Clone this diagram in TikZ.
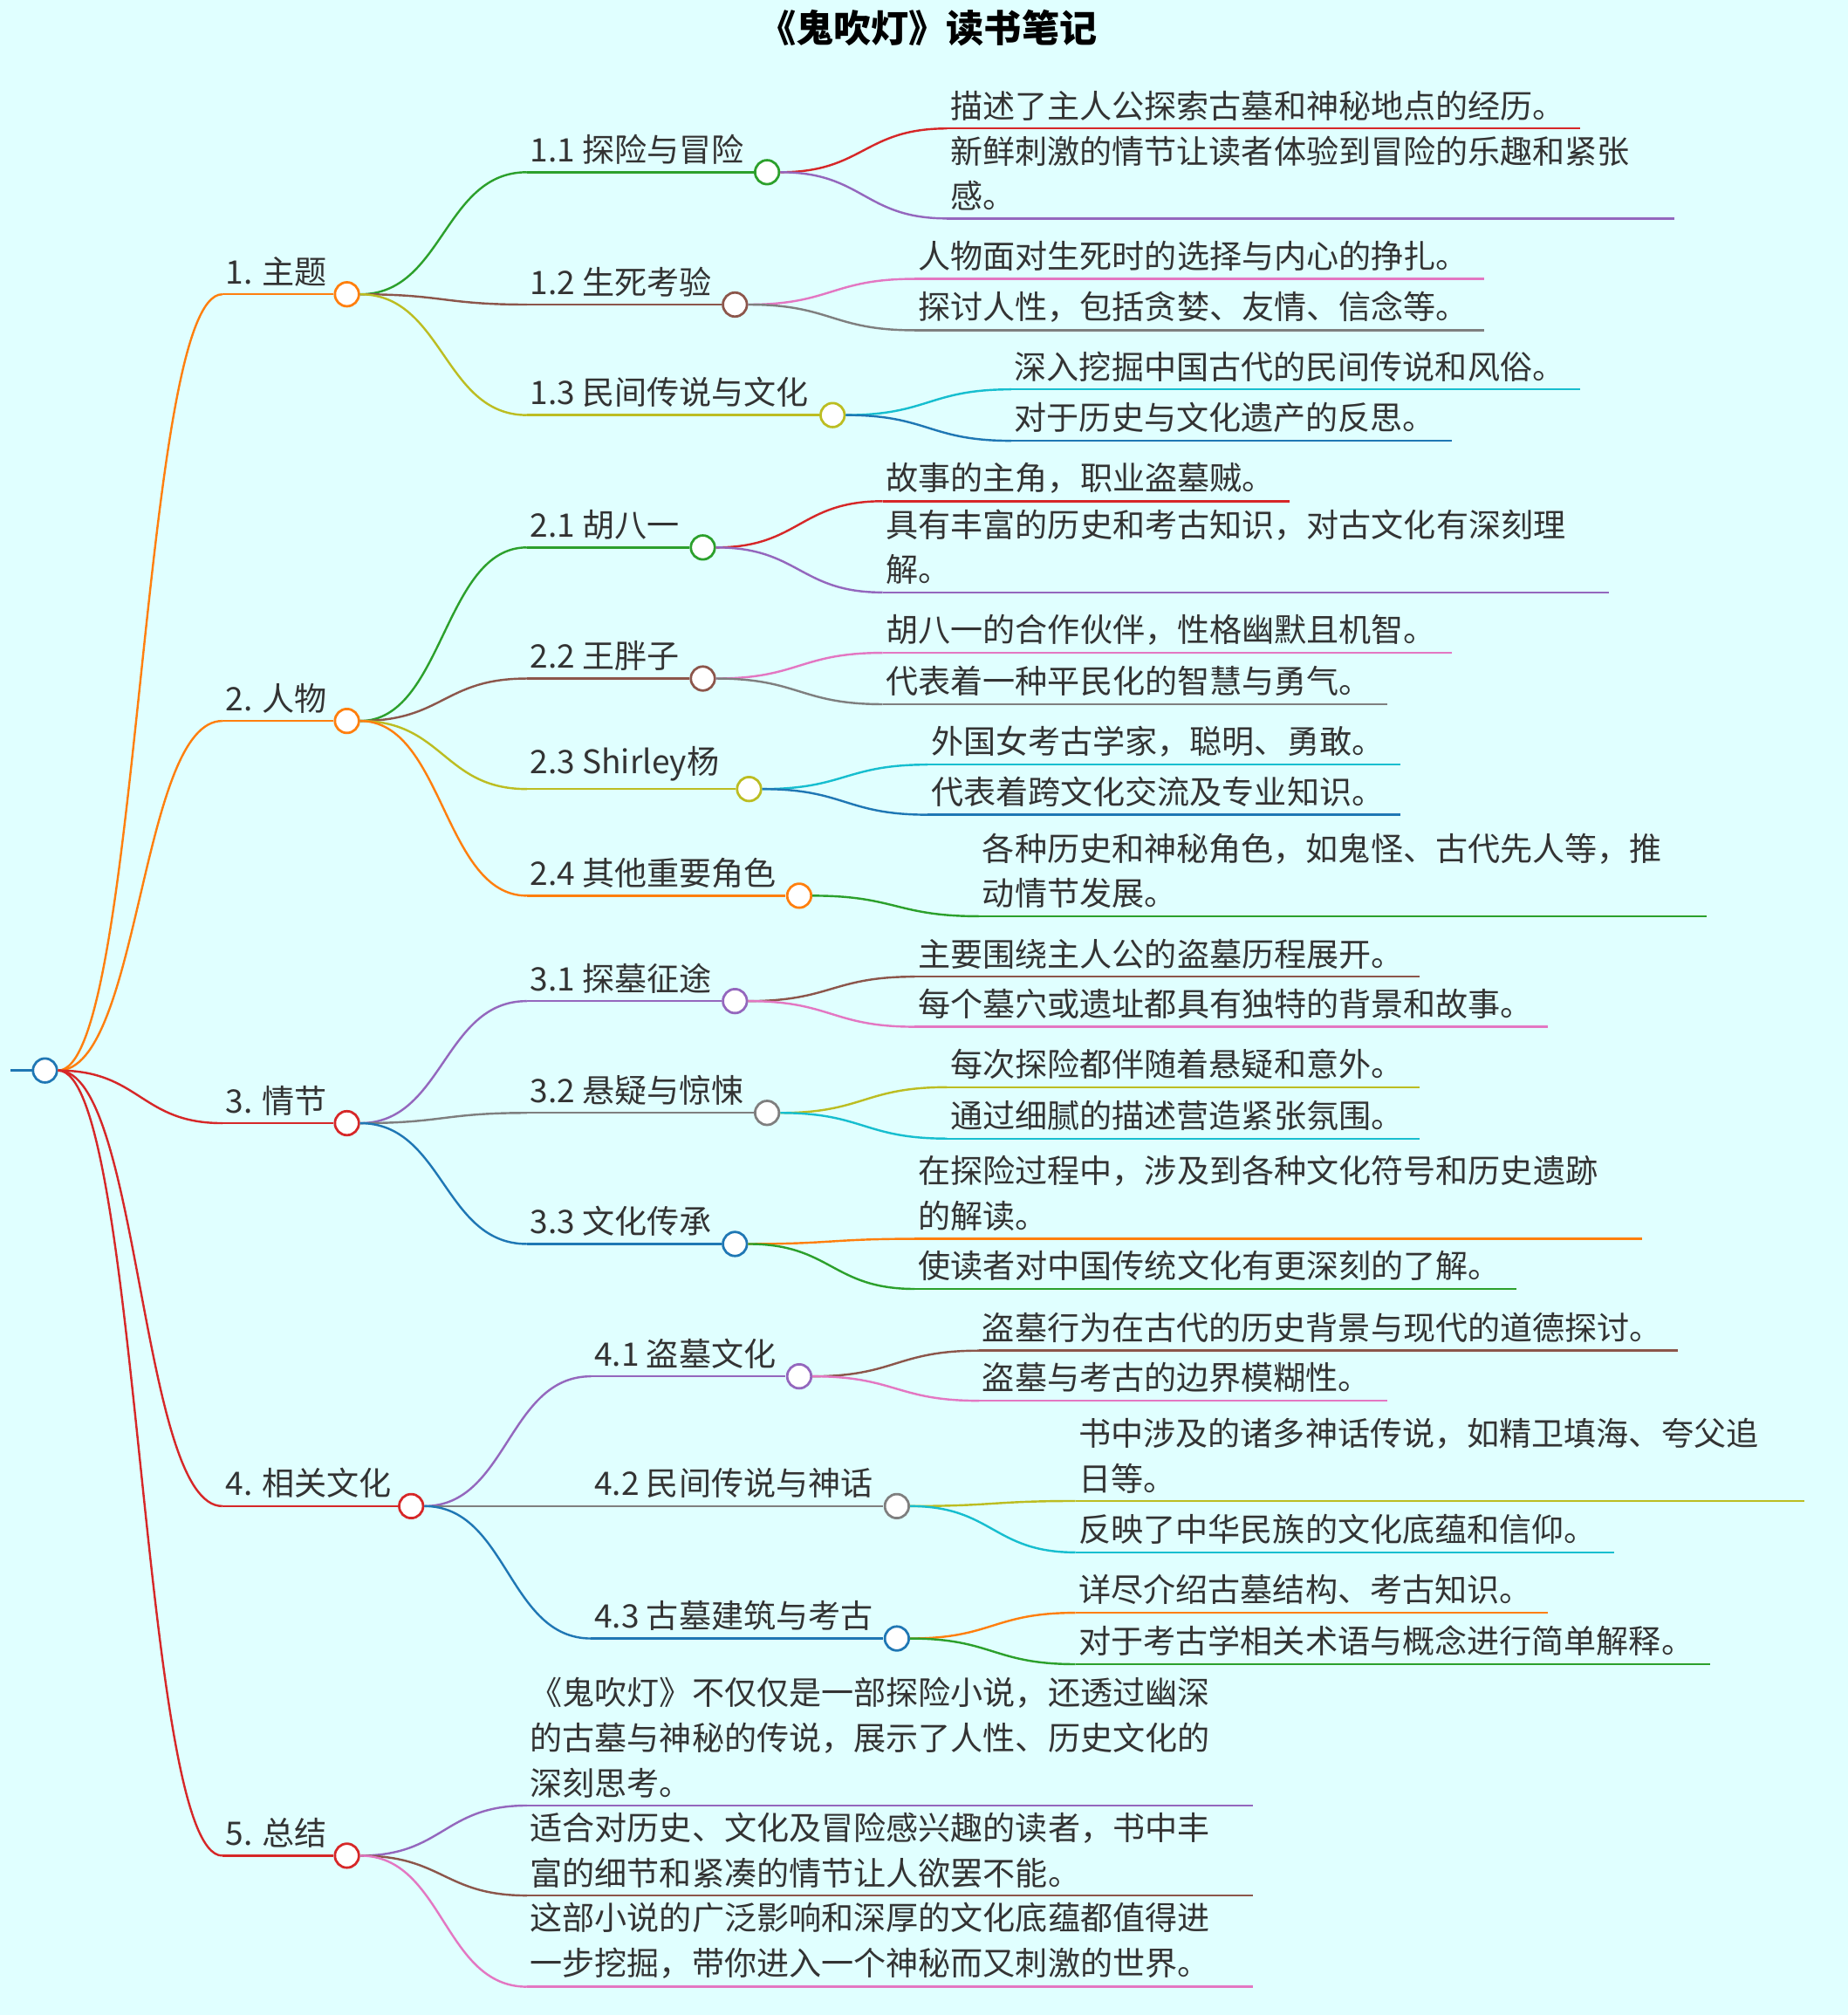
\documentclass[tikz,border=0pt]{standalone}
\usepackage{fontspec}
\setmainfont{Noto Sans CJK SC}
\usetikzlibrary{calc}
\definecolor{bgc}{HTML}{E0FFFF}
\definecolor{cOrange}{HTML}{FF7F0E}
\definecolor{cRed}{HTML}{D62728}
\definecolor{cGreen}{HTML}{2CA02C}
\definecolor{cPurple}{HTML}{9467BD}
\definecolor{cBrown}{HTML}{8C564B}
\definecolor{cPink}{HTML}{E377C2}
\definecolor{cGray}{HTML}{7F7F7F}
\definecolor{cOlive}{HTML}{BCBD22}
\definecolor{cCyan}{HTML}{17BECF}
\definecolor{cBlue}{HTML}{1F77B4}
\definecolor{txt}{HTML}{333333}

% s-curve from a node to a point
\newcommand\bend[3]{%
  \draw[#3,link] let \p1=(#1.east), \p2=(#2) in
    (\p1) .. controls ({0.5*\x1+0.5*\x2},\y1) and ({0.5*\x1+0.5*\x2},\y2) .. (\p2);}

% branch: parent, name, x, y, end x, colour, text
\newcommand\twig[7]{%
  \coordinate (#2) at (#3,#4);
  \coordinate (#2e) at (#5,#4);
  \bend{#1}{#2}{#6}
  \draw[#6,link] (#2) -- (#2e);
  \node[leaftext,anchor=south west] at ([yshift=3pt]#2) {#7};}

% topic: parent, name, x, y, knot x, colour, text
\newcommand\topic[7]{%
  \coordinate (#2s) at (#3,#4);
  \coordinate (#2w) at ([xshift=-9]#5,#4);
  \bend{#1}{#2s}{#6}
  \draw[#6,link] (#2s) -- (#2w);
  \node (#2) [knot,draw=#6] at (#5,#4) {};
  \node[leaftext,anchor=south west] at ([yshift=3pt]#2s) {#7};}

\begin{document}
\begin{tikzpicture}[x=0.03cm,y=-0.03cm,
    link/.style={line width=1.4pt},
    knot/.style={circle,draw,fill=white,line width=1.6pt,inner sep=0pt,minimum size=0.56cm},
    leaftext/.style={text=txt,font=\fontsize{21.5}{30}\selectfont,align=left,inner sep=2pt}
    ]
  \fill[bgc] (0,0) rectangle (1438,1568);
  \node[font=\fontsize{25}{28}\selectfont\bfseries,text=black] (title) at (722,22) {《鬼吹灯》读书笔记};

  \coordinate (rootin) at (8,833);
  \draw[cBlue,link] (rootin) -- (26,833);
  \node (root) [knot,draw=cBlue] at (35,833) {};

  % level one
  \topic{root}{t1}{173}{229}{270}{cOrange}{1. 主题}
  \topic{root}{t2}{173}{561}{270}{cOrange}{2. 人物}
  \topic{root}{t3}{173}{874}{270}{cRed}{3. 情节}
  \topic{root}{t4}{173}{1172}{320}{cRed}{4. 相关文化}
  \topic{root}{t5}{173}{1444}{270}{cRed}{5. 总结}

  % level two
  \topic{t1}{t11}{410}{134}{597}{cGreen}{1.1 探险与冒险}
  \topic{t1}{t12}{410}{237}{572}{cBrown}{1.2 生死考验}
  \topic{t1}{t13}{410}{323}{648}{cOlive}{1.3 民间传说与文化}
  \topic{t2}{t21}{410}{426}{547}{cGreen}{2.1 胡八一}
  \topic{t2}{t22}{410}{528}{547}{cBrown}{2.2 王胖子}
  \topic{t2}{t23}{410}{614}{583}{cOlive}{2.3 Shirley杨}
  \topic{t2}{t24}{410}{697}{622}{cOrange}{2.4 其他重要角色}
  \topic{t3}{t31}{410}{779}{572}{cPurple}{3.1 探墓征途}
  \topic{t3}{t32}{410}{866}{597}{cGray}{3.2 悬疑与惊悚}
  \topic{t3}{t33}{410}{968}{572}{cBlue}{3.3 文化传承}
  \topic{t4}{t41}{460}{1071}{622}{cPurple}{4.1 盗墓文化}
  \topic{t4}{t42}{460}{1172}{698}{cGray}{4.2 民间传说与神话}
  \topic{t4}{t43}{460}{1275}{698}{cBlue}{4.3 古墓建筑与考古}

  % leaves
  \twig{t11}{l111}{737}{100}{1230}{cRed}{描述了主人公探索古墓和神秘地点的经历。}
  \twig{t11}{l112}{737}{170}{1303}{cPurple}{新鲜刺激的情节让读者体验到冒险的乐趣和紧张\\感。}
  \twig{t12}{l121}{712}{217}{1155}{cPink}{人物面对生死时的选择与内心的挣扎。}
  \twig{t12}{l122}{712}{257}{1155}{cGray}{探讨人性，包括贪婪、友情、信念等。}
  \twig{t13}{l131}{787}{303}{1230}{cCyan}{深入挖掘中国古代的民间传说和风俗。}
  \twig{t13}{l132}{787}{343}{1130}{cBlue}{对于历史与文化遗产的反思。}
  \twig{t21}{l211}{687}{390}{1004}{cRed}{故事的主角，职业盗墓贼。}
  \twig{t21}{l212}{687}{461}{1252}{cPurple}{具有丰富的历史和考古知识，对古文化有深刻理\\解。}
  \twig{t22}{l221}{687}{508}{1130}{cPink}{胡八一的合作伙伴，性格幽默且机智。}
  \twig{t22}{l222}{687}{548}{1080}{cGray}{代表着一种平民化的智慧与勇气。}
  \twig{t23}{l231}{722}{595}{1090}{cCyan}{外国女考古学家，聪明、勇敢。}
  \twig{t23}{l232}{722}{634}{1090}{cBlue}{代表着跨文化交流及专业知识。}
  \twig{t24}{l241}{762}{713}{1328}{cGreen}{各种历史和神秘角色，如鬼怪、古代先人等，推\\动情节发展。}
  \twig{t31}{l311}{712}{760}{1105}{cBrown}{主要围绕主人公的盗墓历程展开。}
  \twig{t31}{l312}{712}{799}{1205}{cPink}{每个墓穴或遗址都具有独特的背景和故事。}
  \twig{t32}{l321}{737}{846}{1105}{cOlive}{每次探险都伴随着悬疑和意外。}
  \twig{t32}{l322}{737}{886}{1105}{cCyan}{通过细腻的描述营造紧张氛围。}
  \twig{t33}{l331}{712}{964}{1278}{cOrange}{在探险过程中，涉及到各种文化符号和历史遗跡\\的解读。}
  \twig{t33}{l332}{712}{1003}{1180}{cGreen}{使读者对中国传统文化有更深刻的了解。}
  \twig{t41}{l411}{762}{1051}{1306}{cBrown}{盗墓行为在古代的历史背景与现代的道德探讨。}
  \twig{t41}{l412}{762}{1090}{1080}{cPink}{盗墓与考古的边界模糊性。}
  \twig{t42}{l421}{837}{1168}{1404}{cOlive}{书中涉及的诸多神话传说，如精卫填海、夸父追\\日等。}
  \twig{t42}{l422}{837}{1208}{1256}{cCyan}{反映了中华民族的文化底蕴和信仰。}
  \twig{t43}{l431}{837}{1255}{1205}{cOrange}{详尽介绍古墓结构、考古知识。}
  \twig{t43}{l432}{837}{1295}{1331}{cGreen}{对于考古学相关术语与概念进行简单解释。}
  \twig{t5}{l51}{410}{1405}{975}{cPurple}{《鬼吹灯》不仅仅是一部探险小说，还透过幽深\\的古墓与神秘的传说，展示了人性、历史文化的\\深刻思考。}
  \twig{t5}{l52}{410}{1475}{975}{cBrown}{适合对历史、文化及冒险感兴趣的读者，书中丰\\富的细节和紧凑的情节让人欲罢不能。}
  \twig{t5}{l53}{410}{1546}{975}{cPink}{这部小说的广泛影响和深厚的文化底蕴都值得进\\一步挖掘，带你进入一个神秘而又刺激的世界。}
\end{tikzpicture}
\end{document}
